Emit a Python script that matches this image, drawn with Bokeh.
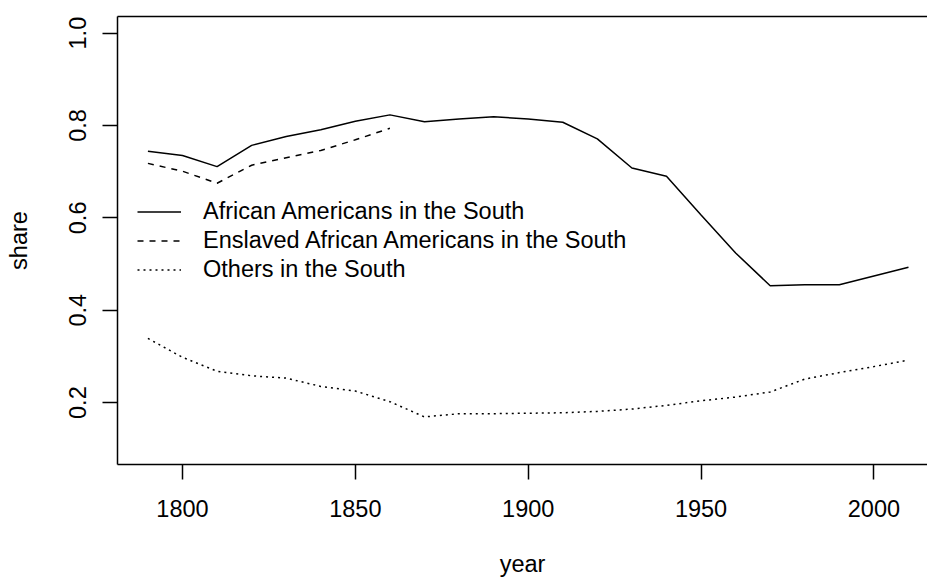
from bokeh.plotting import figure
from bokeh.models import Legend, LegendItem, LinearAxis, FixedTicker, Range1d
from bokeh.embed import file_html
from bokeh.resources import INLINE

years = [1790, 1800, 1810, 1820, 1830, 1840, 1850, 1860, 1870, 1880, 1890, 1900,
         1910, 1920, 1930, 1940, 1950, 1960, 1970, 1980, 1990, 2000, 2010]
african_americans_south = [0.744, 0.735, 0.711, 0.757, 0.776, 0.791, 0.809, 0.823,
                           0.808, 0.814, 0.819, 0.814, 0.807, 0.771, 0.708, 0.690,
                           0.606, 0.524, 0.453, 0.455, 0.455, 0.474, 0.493]
years_enslaved = [1790, 1800, 1810, 1820, 1830, 1840, 1850, 1860]
enslaved_south = [0.718, 0.701, 0.675, 0.714, 0.730, 0.746, 0.769, 0.794]
others_south = [0.339, 0.298, 0.268, 0.258, 0.253, 0.235, 0.225, 0.202, 0.169,
                0.176, 0.176, 0.177, 0.178, 0.181, 0.186, 0.194, 0.204, 0.212,
                0.223, 0.251, 0.265, 0.278, 0.292]
x_ticks = [1800, 1850, 1900, 1950, 2000]
y_ticks = [0.2, 0.4, 0.6, 0.8, 1.0]
y_tick_labels = ["0.2", "0.4", "0.6", "0.8", "1.0"]
series_labels = ["African Americans in the South",
                 "Enslaved African Americans in the South",
                 "Others in the South"]

FONT = "Liberation Sans"
FS = "23.5px"

p = figure(width=927, height=579,
           x_range=Range1d(1781.2, 2015.5), y_range=Range1d(0.066, 1.036),
           output_backend="svg", toolbar_location=None,
           min_border_left=117, min_border_right=0,
           min_border_top=16, min_border_bottom=112)
p.grid.visible = False
p.outline_line_color = None
p.background_fill_color = "white"

r1 = p.line(years, african_americans_south, line_color="black", line_width=1.5)
r2 = p.line(years_enslaved, enslaved_south, line_color="black", line_width=1.5,
            line_dash="6 6")
r3 = p.line(years, others_south, line_color="black", line_width=1.5,
            line_dash="2 4")

for ax in (p.xaxis[0], p.yaxis[0]):
    ax.axis_line_color = "black"
    ax.axis_line_width = 1.5
    ax.major_tick_line_color = "black"
    ax.major_tick_line_width = 1.5
    ax.major_tick_out = 15
    ax.major_tick_in = 0
    ax.minor_tick_out = 0
    ax.minor_tick_in = 0
    ax.major_label_text_font = FONT
    ax.major_label_text_font_size = FS
    ax.major_label_text_color = "black"
    ax.axis_label_text_font = FONT
    ax.axis_label_text_font_size = FS
    ax.axis_label_text_font_style = "normal"
    ax.axis_label_text_color = "black"

p.xaxis.ticker = FixedTicker(ticks=x_ticks)
p.xaxis.major_label_standoff = 20
p.xaxis.axis_label = "year"
p.xaxis.axis_label_standoff = 31

p.yaxis.ticker = FixedTicker(ticks=y_ticks)
p.yaxis.major_label_overrides = {t: l for t, l in zip(y_ticks, y_tick_labels)}
p.yaxis.major_label_orientation = "vertical"
p.yaxis.major_label_standoff = 16
p.yaxis.axis_label = "share"
p.yaxis.axis_label_standoff = 35

top = LinearAxis(ticker=FixedTicker(ticks=[]), axis_line_color="black",
                 axis_line_width=1.5, major_tick_out=0, major_tick_in=0,
                 minor_tick_out=0, minor_tick_in=0,
                 major_label_text_font_size="0px")
p.add_layout(top, "above")

legend = Legend(items=[LegendItem(label=series_labels[0], renderers=[r1]),
                       LegendItem(label=series_labels[1], renderers=[r2]),
                       LegendItem(label=series_labels[2], renderers=[r3])],
                location=(20, 180), label_text_font=FONT, label_text_font_size=FS,
                label_text_color="black",
                glyph_width=44, glyph_height=29, label_height=29, spacing=0,
                padding=0, margin=0, border_line_color=None,
                background_fill_alpha=0, label_standoff=22)
p.add_layout(legend)

open("out.html", "w").write(file_html(p, INLINE))
